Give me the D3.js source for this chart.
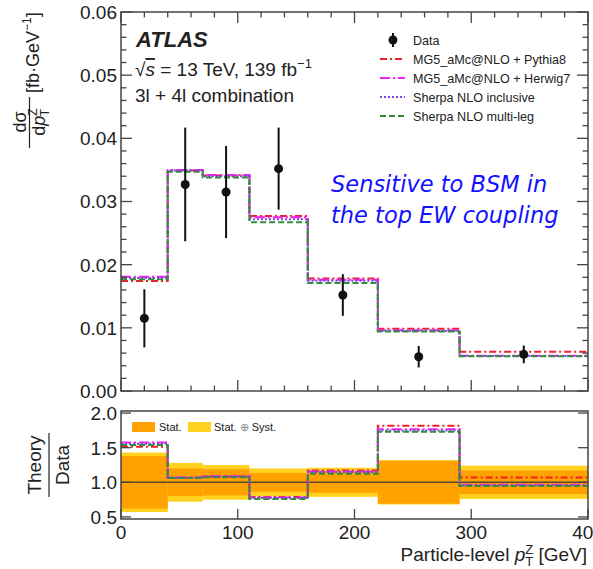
<!DOCTYPE html>
<html lang="en">
	<head>
		<meta charset="UTF-8" />
		<title>pT Z cross section</title>
		<style>
			html,
			body {
				margin: 0;
				padding: 0;
				background: #fff;
				overflow: hidden;
			}
			svg text {
				font-family: 'Liberation Sans', Arial, sans-serif;
				fill: #222;
			}
		</style>
	</head>
	<body>
		<svg id="chart" width="593" height="569"></svg>

		<script src="https://d3js.org/d3.v7.min.js"></script>

		<script>
			// bins in particle-level pT(Z) [GeV]
			const binEdges = [0, 40, 70, 110, 160, 220, 290, 400];
			const dataX = [20, 55, 90, 135, 190, 255, 345];
			const dataY = [0.0115, 0.0327, 0.0315, 0.0352, 0.0152, 0.00543, 0.0058];
			const dataErr = [0.0046, 0.009, 0.0073, 0.0065, 0.0033, 0.0017, 0.0014];

			const mgPythia = [0.0174, 0.0349, 0.0341, 0.0277, 0.0178, 0.00986, 0.0062];
			const mgHerwig = [0.0181, 0.035, 0.0342, 0.0275, 0.0176, 0.0096, 0.0056];
			const sherpaIncl = [0.0179, 0.0349, 0.034, 0.0272, 0.01745, 0.0095, 0.00555];
			const sherpaMulti = [0.0177, 0.0347, 0.0338, 0.0267, 0.0171, 0.0094, 0.0055];

			// relative uncertainties of the data (ratio band)
			const statRel = [0.38, 0.2, 0.19, 0.135, 0.15, 0.31, 0.17];
			const totRel = [0.43, 0.28, 0.25, 0.2, 0.21, 0.32, 0.24];

			const yTicksTop = [0, 0.01, 0.02, 0.03, 0.04, 0.05, 0.06];
			const yTicksRatio = [0.5, 1.0, 1.5, 2.0];
			const xTicks = [0, 100, 200, 300, 400];

			const models = [
				{ name: 'MG5_aMc@NLO + Pythia8', vals: mgPythia, color: '#f0202a', dash: '7,3,2,3' },
				{ name: 'MG5_aMc@NLO + Herwig7', vals: mgHerwig, color: '#f020f0', dash: '10,3,2,3' },
				{ name: 'Sherpa NLO inclusive', vals: sherpaIncl, color: '#7d45e6', dash: '2,2' },
				{ name: 'Sherpa NLO multi-leg', vals: sherpaMulti, color: '#2f8f3a', dash: '6,3' }
			];

			const svg = d3.select('#chart');

			const x = d3.scaleLinear().domain([0, 400]).range([121, 588]);
			const y = d3.scaleLinear().domain([0, 0.06]).range([391, 12]);
			const yr = d3.scaleLinear().domain([0.47, 2.03]).range([519, 411]);

			const frameColor = '#444';

			// ---------- upper panel ----------
			const upper = svg.append('g');

			const histLine = (scale) =>
				d3
					.line()
					.x((d) => x(d[0]))
					.y((d) => scale(d[1]))
					.curve(d3.curveStepAfter);

			const stepPoints = (vals) => {
				const pts = vals.map((v, i) => [binEdges[i], v]);
				pts.push([binEdges[binEdges.length - 1], vals[vals.length - 1]]);
				return pts;
			};

			models.forEach((m) => {
				upper.append('path')
					.attr('d', histLine(y)(stepPoints(m.vals)))
					.attr('fill', 'none')
					.attr('stroke', m.color)
					.attr('stroke-width', 2)
					.attr('stroke-dasharray', m.dash);
			});

			// data points
			const pts = dataX.map((d, i) => ({ x: d, y: dataY[i], e: dataErr[i] }));
			upper.selectAll('line.err')
				.data(pts)
				.join('line')
				.attr('class', 'err')
				.attr('x1', (d) => x(d.x))
				.attr('x2', (d) => x(d.x))
				.attr('y1', (d) => y(d.y - d.e))
				.attr('y2', (d) => y(d.y + d.e))
				.attr('stroke', '#111')
				.attr('stroke-width', 2);
			upper.selectAll('circle.pt')
				.data(pts)
				.join('circle')
				.attr('class', 'pt')
				.attr('cx', (d) => x(d.x))
				.attr('cy', (d) => y(d.y))
				.attr('r', 4.5)
				.attr('fill', '#111');

			// frame + ticks
			function frame(g, ys, yTop, yBot, xMinor, yMajor, yMinor, majLen, minLen, xTopTicks) {
				g.append('rect')
					.attr('x', x(0))
					.attr('y', yTop)
					.attr('width', x(400) - x(0))
					.attr('height', yBot - yTop)
					.attr('fill', 'none')
					.attr('stroke', frameColor)
					.attr('stroke-width', 1.5);
				const xt = d3.range(0, 401, 20);
				xt.forEach((t) => {
					const major = t % 100 === 0;
					if (!major && !xMinor) return;
					const len = major ? majLen : minLen;
					g.append('line')
						.attr('x1', x(t)).attr('x2', x(t))
						.attr('y1', yBot).attr('y2', yBot - len)
						.attr('stroke', frameColor).attr('stroke-width', 1.3);
					if (xTopTicks)
						g.append('line')
							.attr('x1', x(t)).attr('x2', x(t))
							.attr('y1', yTop).attr('y2', yTop + len)
							.attr('stroke', frameColor).attr('stroke-width', 1.3);
				});
				const yt = yMajor.map((v) => ({ v, major: true })).concat(yMinor.map((v) => ({ v, major: false })));
				yt.forEach((t) => {
					const len = t.major ? majLen : minLen;
					[[x(0), len], [x(400), -len]].forEach(([px, l]) => {
						g.append('line')
							.attr('x1', px).attr('x2', px + l)
							.attr('y1', ys(t.v)).attr('y2', ys(t.v))
							.attr('stroke', frameColor).attr('stroke-width', 1.3);
					});
				});
			}

			const yMinorTop = d3.range(0, 0.0601, 0.002).filter((v) => Math.abs(v * 100 - Math.round(v * 100)) > 1e-6);
			frame(upper, y, 12, 391, true, yTicksTop, yMinorTop, 11, 5.5, true);

			upper.selectAll('text.yt')
				.data(yTicksTop)
				.join('text')
				.attr('class', 'yt')
				.attr('x', 117)
				.attr('y', (d) => y(d))
				.attr('dy', '0.36em')
				.attr('text-anchor', 'end')
				.attr('font-size', 19)
				.text((d) => d.toFixed(2));

			// ATLAS label
			upper.append('text')
				.attr('x', 136).attr('y', 47)
				.attr('font-size', 22)
				.attr('font-weight', 'bold')
				.attr('font-style', 'italic')
				.text('ATLAS');
			const sq = upper.append('text').attr('x', 135).attr('y', 76).attr('font-size', 19);
			sq.append('tspan').text('\u221A');
			sq.append('tspan').attr('font-style', 'italic').attr('text-decoration', 'overline').text('s');
			sq.append('tspan').text(' = 13 TeV, 139 fb');
			sq.append('tspan').attr('font-size', 13).attr('dy', -8).text('\u22121');
			upper.append('text')
				.attr('x', 135).attr('y', 102)
				.attr('font-size', 19)
				.text('3l + 4l combination');

			// legend
			const lg = upper.append('g');
			const lgY = [40, 59, 78, 97, 116];
			lg.append('line')
				.attr('x1', 393).attr('x2', 393)
				.attr('y1', lgY[0] - 7).attr('y2', lgY[0] + 7)
				.attr('stroke', '#111').attr('stroke-width', 2);
			lg.append('circle').attr('cx', 393).attr('cy', lgY[0]).attr('r', 4.5).attr('fill', '#111');
			lg.append('text').attr('x', 413).attr('y', lgY[0]).attr('dy', '0.36em').attr('font-size', 12.6).text('Data');
			models.forEach((m, i) => {
				const yy = lgY[i + 1];
				lg.append('line')
					.attr('x1', 380).attr('x2', 405)
					.attr('y1', yy).attr('y2', yy)
					.attr('stroke', m.color).attr('stroke-width', 2)
					.attr('stroke-dasharray', m.dash);
				lg.append('text').attr('x', 413).attr('y', yy).attr('dy', '0.36em').attr('font-size', 12.6).text(m.name);
			});

			// annotation
			const note = upper.append('g')
				.attr('font-style', 'italic');
			note.append('text')
				.attr('x', 331).attr('y', 192)
				.style('font-family', "'DejaVu Sans', sans-serif")
				.style('fill', '#1212ff')
				.attr('font-size', 22.5)
				.text('Sensitive to BSM in');
			note.append('text')
				.attr('x', 331).attr('y', 223)
				.style('font-family', "'DejaVu Sans', sans-serif")
				.style('fill', '#1212ff')
				.attr('font-size', 22.5)
				.text('the top EW coupling');

			// y title upper
			const yt1 = svg.append('g').attr('transform', 'rotate(-90)');
			yt1.append('text')
				.attr('x', -122).attr('y', 26)
				.attr('text-anchor', 'middle')
				.attr('font-size', 18)
				.text('d\u03C3');
			yt1.append('line')
				.attr('x1', -148).attr('x2', -97)
				.attr('y1', 29.5).attr('y2', 29.5)
				.attr('stroke', '#222').attr('stroke-width', 1.2);
			const den = yt1.append('text')
				.attr('x', -122).attr('y', 45)
				.attr('text-anchor', 'middle')
				.attr('font-size', 18);
			den.append('tspan').text('d');
			den.append('tspan').attr('font-style', 'italic').text('p');
			den.append('tspan').attr('font-size', 12).attr('dy', -8).text('Z');
			den.append('tspan').attr('font-size', 12).attr('dx', -8).attr('dy', 12).text('T');
			const unit = yt1.append('text')
				.attr('x', -93).attr('y', 39)
				.attr('font-size', 18);
			unit.append('tspan').text('[fb\u00B7GeV');
			unit.append('tspan').attr('font-size', 12).attr('dy', -8).text('\u22121');
			unit.append('tspan').attr('dy', 8).text(']');

			// ---------- ratio panel ----------
			const bot = svg.append('g');
			const bins = binEdges.slice(0, -1).map((lo, i) => ({ lo, hi: binEdges[i + 1], s: statRel[i], t: totRel[i] }));
			bot.selectAll('rect.tot')
				.data(bins)
				.join('rect')
				.attr('class', 'tot')
				.attr('x', (d) => x(d.lo))
				.attr('width', (d) => x(d.hi) - x(d.lo))
				.attr('y', (d) => yr(1 + d.t))
				.attr('height', (d) => yr(1 - d.t) - yr(1 + d.t))
				.attr('fill', '#ffd21f');
			bot.selectAll('rect.stat')
				.data(bins)
				.join('rect')
				.attr('class', 'stat')
				.attr('x', (d) => x(d.lo))
				.attr('width', (d) => x(d.hi) - x(d.lo))
				.attr('y', (d) => yr(1 + d.s))
				.attr('height', (d) => yr(1 - d.s) - yr(1 + d.s))
				.attr('fill', '#ffa200');
			bot.append('line')
				.attr('x1', x(0)).attr('x2', x(400))
				.attr('y1', yr(1)).attr('y2', yr(1))
				.attr('stroke', '#5a4a30').attr('stroke-width', 1.5);

			models.forEach((m) => {
				const ratio = m.vals.map((v, i) => v / dataY[i]);
				bot.append('path')
					.attr('d', histLine(yr)(stepPoints(ratio)))
					.attr('fill', 'none')
					.attr('stroke', m.color)
					.attr('stroke-width', 2)
					.attr('stroke-dasharray', m.dash);
			});

			frame(bot, yr, 411, 519, false, yTicksRatio, [], 10, 5, false);

			bot.selectAll('text.yr')
				.data(yTicksRatio)
				.join('text')
				.attr('class', 'yr')
				.attr('x', 117)
				.attr('y', (d) => yr(d))
				.attr('dy', '0.36em')
				.attr('text-anchor', 'end')
				.attr('font-size', 19)
				.text((d) => d.toFixed(1));

			bot.selectAll('text.xt')
				.data(xTicks)
				.join('text')
				.attr('class', 'xt')
				.attr('x', (d) => x(d))
				.attr('y', 539)
				.attr('text-anchor', 'middle')
				.attr('font-size', 19)
				.text((d) => d);

			// band legend
			bot.append('rect').attr('x', 132).attr('y', 422).attr('width', 23).attr('height', 10).attr('fill', '#ffa200');
			bot.append('text').attr('x', 159).attr('y', 427).attr('dy', '0.36em').attr('font-size', 11).text('Stat.');
			bot.append('rect').attr('x', 188).attr('y', 422).attr('width', 23).attr('height', 10).attr('fill', '#ffd21f');
			const sl = bot.append('text').attr('x', 214).attr('y', 427).attr('dy', '0.36em').attr('font-size', 11);
			sl.append('tspan').text('Stat. ');
			sl.append('tspan').style('fill', '#888').text('\u2295');
			sl.append('tspan').text(' Syst.');

			// x title
			const xl = svg.append('text')
				.attr('x', 587).attr('y', 561)
				.attr('text-anchor', 'end')
				.attr('font-size', 19);
			xl.append('tspan').text('Particle-level ');
			xl.append('tspan').attr('font-style', 'italic').text('p');
			xl.append('tspan').attr('font-size', 13).attr('dy', -7).text('Z');
			xl.append('tspan').attr('font-size', 13).attr('dx', -8).attr('dy', 12).text('T');
			xl.append('tspan').attr('dy', -5).text(' [GeV]');

			// ratio y title
			const yt2 = svg.append('g').attr('transform', 'rotate(-90)');
			yt2.append('text')
				.attr('x', -465).attr('y', 41)
				.attr('text-anchor', 'middle')
				.attr('font-size', 19)
				.text('Theory');
			yt2.append('line')
				.attr('x1', -497).attr('x2', -433)
				.attr('y1', 49).attr('y2', 49)
				.attr('stroke', '#222').attr('stroke-width', 1.2);
			yt2.append('text')
				.attr('x', -465).attr('y', 69)
				.attr('text-anchor', 'middle')
				.attr('font-size', 19)
				.text('Data');
		</script>
	</body>
</html>
